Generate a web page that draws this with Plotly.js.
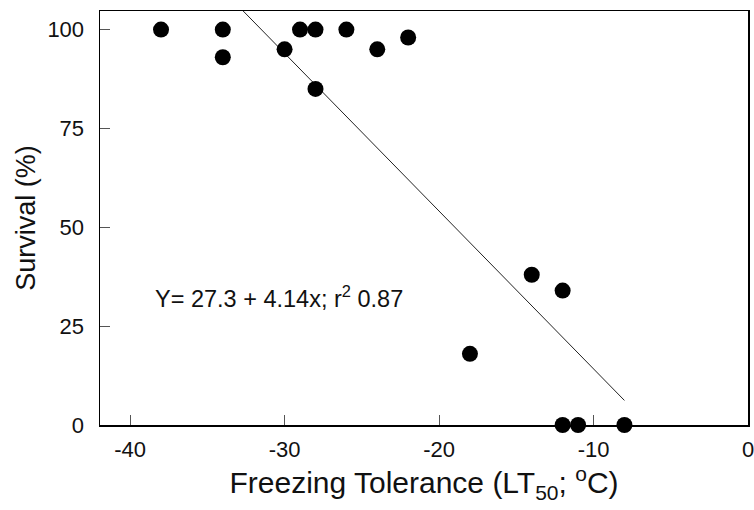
<!DOCTYPE html>
<html>
<head>
<meta charset="utf-8">
<script src="https://cdn.plot.ly/plotly-3.0.1.min.js"></script>
<style>html,body{margin:0;padding:0;background:#fff;}#chart{width:754px;height:510px;}</style>
</head>
<body>
<div id="chart"></div>
<script>
// Observed data: freezing tolerance (LT50, °C) vs survival (%)
const freezingTolerance = [-38, -34, -34, -30, -29, -28, -28, -26, -24, -22, -18, -14, -12, -12, -11, -8];
const survival =          [100, 100,  93,  95, 100, 100,  85, 100,  95,  98,  18,  38,  34,   0,   0,  0];

// Regression line as drawn (intercept, slope) and its x extent
const fitIntercept = -25.7;
const fitSlope = -3.99;
const fitXRange = [-38, -8];

const xTickVals = [-40, -30, -20, -10, 0];
const xTickText = ['-40', '-30', '-20', '-10', '0'];
const yTickVals = [0, 25, 50, 75, 100];
const yTickText = ['0', '25', '50', '75', '100'];

const equationText = 'Y= 27.3 + 4.14x; r<sup>2</sup> 0.87';

const fitY = fitXRange.map(x => fitIntercept + fitSlope * x);

const font = 'Liberation Sans, Arial, sans-serif';
const txt = '#111';

const traces = [
  {
    x: fitXRange, y: fitY, type: 'scatter', mode: 'lines',
    line: {color: '#222', width: 1}, hoverinfo: 'skip', showlegend: false
  },
  {
    x: freezingTolerance, y: survival, type: 'scatter', mode: 'markers',
    marker: {color: '#000', size: 16}, cliponaxis: false, showlegend: false
  }
];

const layout = {
  width: 754, height: 510,
  margin: {l: 100, r: 6, t: 11, b: 85},
  paper_bgcolor: '#fff', plot_bgcolor: '#fff',
  font: {family: font, color: txt},
  showlegend: false,
  xaxis: {
    range: [-41.95, 0], tickvals: xTickVals, ticktext: xTickText,
    ticks: 'inside', ticklen: 10, tickwidth: 1, tickcolor: '#555',
    showline: true, linecolor: '#000', linewidth: 1.5, mirror: true,
    showgrid: false, zeroline: false, ticklabelstandoff: 4, ticklabeloverflow: 'allow',
    tickfont: {size: 22, family: font, color: txt},
    title: {text: 'Freezing Tolerance (LT<sub>50</sub>; <sup>o</sup>C)', font: {size: 30, family: font, color: txt}, standoff: 9}
  },
  yaxis: {
    range: [0, 104.7], tickvals: yTickVals, ticktext: yTickText,
    ticks: 'inside', ticklen: 10, tickwidth: 1, tickcolor: '#555',
    showline: true, linecolor: '#000', linewidth: 1.5, mirror: true,
    showgrid: false, zeroline: false, ticklabelstandoff: 10,
    tickfont: {size: 22, family: font, color: txt},
    title: {text: 'Survival (%)', font: {size: 27, family: font, color: txt}, standoff: 4}
  },
  annotations: [{
    text: equationText, xref: 'x', yref: 'y', x: -38.5, y: 32.3,
    xanchor: 'left', yanchor: 'middle', showarrow: false,
    font: {size: 23.5, family: font, color: txt}
  }]
};

Plotly.newPlot('chart', traces, layout, {displayModeBar: false, staticPlot: true});
</script>
</body>
</html>
